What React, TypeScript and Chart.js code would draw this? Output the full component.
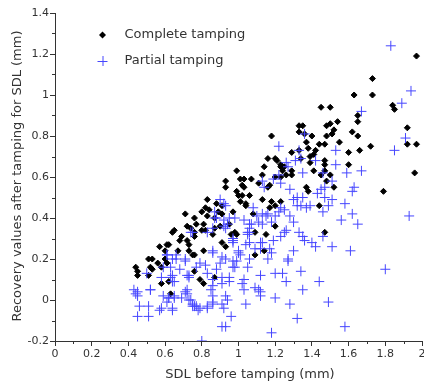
import React, { useEffect, useRef } from "react";
import { Chart, registerables } from "chart.js";

Chart.register(...registerables);

const X_TITLE = "SDL before tamping (mm)";
const Y_TITLE = "Recovery values after tamping for SDL (mm)";
const SERIES_NAMES = ["Complete tamping", "Partial tamping"];
const X_MIN = 0, X_MAX = 2, Y_MIN = -0.2, Y_MAX = 1.4;
const X_MINOR = [0.1, 0.3, 0.5, 0.7, 0.9, 1.1, 1.3, 1.5, 1.7, 1.9];
const Y_MINOR = [-0.1, 0.1, 0.3, 0.5, 0.7, 0.9, 1.1, 1.3];

const completeX = [
  1.97, 1.73, 1.63, 1.73, 1.84, 1.85, 1.45, 1.5, 1.65, 1.54, 1.65, 1.5, 1.48, 1.52, 1.62, 1.48, 1.51, 1.65, 1.92, 1.92,
  1.97, 1.96, 1.66, 1.72, 1.6, 1.6, 1.47, 1.55, 1.44, 1.4, 1.36, 1.33, 1.35, 1.33, 1.18, 1.29, 1.37, 1.38, 1.41, 1.39,
  1.39, 1.47, 1.47, 1.47, 1.48, 1.5, 1.41, 1.45, 1.37, 1.34, 1.42, 1.52, 1.79, 1.44, 1.47, 1.16, 1.2, 1.21, 1.14, 1.23,
  1.24, 1.23, 1.26, 1.2, 0.99, 0.93, 1.01, 1.03, 1.07, 1.02, 1.03, 1.11, 1.16, 1.17, 1.38, 0.93, 0.99, 1.0, 1.02, 1.06,
  1.01, 1.04, 1.04, 0.91, 1.13, 1.18, 1.23, 1.17, 1.2, 0.91, 0.97, 1.08, 1.09, 0.95, 0.98, 0.9, 1.2, 1.15, 0.96, 0.99,
  0.91, 0.93, 1.09, 1.14, 0.83, 0.88, 0.82, 0.84, 0.8, 0.83, 0.71, 0.76, 0.87, 0.89, 0.77, 0.81, 0.72, 0.65, 0.64, 0.8,
  0.87, 0.69, 0.76, 0.82, 0.86, 0.72, 0.73, 0.61, 0.57, 0.67, 0.75, 0.81, 0.51, 0.53, 0.56, 0.52, 0.53, 0.44, 0.45, 0.45,
  0.51, 0.62, 0.76, 0.79, 0.81, 0.87, 0.63, 0.58, 0.6, 0.61, 0.6, 0.62, 0.68, 0.73, 0.74, 0.76, 0.58, 0.76, 1.13, 1.23,
  1.25, 1.29, 1.29, 1.33,
];
const completeY = [
  1.19, 1.08, 1.0, 1.0, 0.95, 0.93, 0.94, 0.94, 0.9, 0.87, 0.87, 0.86, 0.85, 0.83, 0.82, 0.8, 0.81, 0.8, 0.84, 0.76,
  0.76, 0.62, 0.73, 0.75, 0.72, 0.66, 0.76, 0.77, 0.76, 0.8, 0.81, 0.85, 0.85, 0.82, 0.8, 0.72, 0.77, 0.74, 0.71, 0.7,
  0.67, 0.68, 0.66, 0.63, 0.58, 0.61, 0.63, 0.61, 0.55, 0.69, 0.73, 0.55, 0.53, 0.46, 0.33, 0.69, 0.69, 0.68, 0.65, 0.65,
  0.63, 0.6, 0.61, 0.6, 0.63, 0.58, 0.59, 0.59, 0.59, 0.56, 0.55, 0.57, 0.55, 0.56, 0.53, 0.55, 0.53, 0.51, 0.51, 0.51,
  0.48, 0.47, 0.46, 0.46, 0.49, 0.48, 0.48, 0.45, 0.46, 0.42, 0.43, 0.42, 0.33, 0.37, 0.33, 0.36, 0.36, 0.32, 0.32, 0.32,
  0.28, 0.26, 0.22, 0.24, 0.49, 0.47, 0.45, 0.44, 0.43, 0.41, 0.42, 0.4, 0.4, 0.43, 0.37, 0.37, 0.36, 0.34, 0.33, 0.34,
  0.35, 0.31, 0.33, 0.34, 0.32, 0.29, 0.27, 0.27, 0.26, 0.24, 0.22, 0.24, 0.2, 0.2, 0.18, 0.16, 0.15, 0.16, 0.14, 0.12,
  0.12, 0.09, 0.14, 0.1, 0.08, 0.11, 0.03, 0.16, 0.2, 0.18, 0.24, 0.27, 0.29, 0.24, 0.35, 0.22, 0.08, 0.31, 0.61, 0.66,
  0.65, 0.63, 0.61, 0.73,
];

const partialX = [
  1.83, 1.94, 1.89, 1.67, 1.91, 1.85, 1.67, 1.59, 1.53, 1.53, 1.22, 1.33, 1.42, 1.46, 1.51, 1.35, 1.36, 1.63, 1.62, 1.47,
  1.45, 1.43, 1.47, 1.51, 1.49, 1.58, 1.46, 1.62, 1.56, 1.65, 1.93, 1.46, 1.42, 1.51, 1.61, 1.8, 1.44, 1.49, 1.58, 1.35,
  1.36, 1.4, 1.3, 1.27, 1.34, 1.35, 1.28, 1.32, 1.18, 1.2, 1.2, 1.24, 1.26, 1.16, 1.12, 1.09, 1.11, 1.12, 1.12, 1.04,
  0.96, 0.93, 1.03, 1.03, 1.02, 0.97, 0.98, 0.97, 0.95, 0.95, 0.93, 0.94, 0.91, 0.92, 0.86, 0.99, 1.05, 1.0, 1.0, 0.97,
  1.06, 1.05, 1.12, 1.19, 1.25, 1.17, 1.18, 1.09, 1.28, 1.3, 1.23, 1.32, 1.37, 1.35, 1.15, 1.16, 1.2, 1.18, 1.11, 1.06,
  1.05, 0.92, 0.93, 0.87, 0.88, 0.95, 0.94, 0.97, 0.86, 0.93, 0.88, 0.45, 0.45, 0.52, 0.46, 0.51, 0.45, 0.51, 0.57, 0.64,
  0.62, 0.61, 0.65, 0.71, 0.73, 0.75, 0.76, 0.79, 0.83, 0.8, 0.61, 0.64, 0.66, 0.71, 0.64, 0.59, 0.5, 0.65, 0.72, 0.73,
  0.79, 0.77, 0.82, 0.83, 0.86, 0.86, 0.85, 0.86, 0.86, 0.83, 0.91, 0.91, 0.91, 0.75, 0.86, 0.9, 0.91, 1.23, 0.97, 1.04,
  1.06, 1.13, 1.12, 1.27, 1.06, 1.01, 1.34, 1.31, 1.26, 1.27, 1.22, 1.19, 1.23, 1.13, 1.14, 1.28, 1.32, 1.3, 1.39, 1.25,
  1.22, 1.13, 1.1, 1.08, 1.13, 1.07, 1.03, 0.98, 1.06, 1.26, 1.33, 0.93, 0.9, 1.34, 0.87, 0.92, 0.92, 0.74, 0.83, 0.86,
  0.43, 0.44, 0.52, 0.58, 0.64, 0.59, 0.62, 0.65, 0.69, 0.72, 0.72, 0.74, 0.75, 0.77, 0.78, 0.63, 0.66, 0.71, 0.68, 0.63,
  0.64, 0.73, 0.58, 0.61,
];
const partialY = [
  1.24, 1.02, 0.96, 0.92, 0.79, 0.73, 0.63, 0.62, 0.73, 0.66, 0.75, 0.73, 0.68, 0.62, 0.58, 0.62, 0.81, 0.55, 0.53, 0.55,
  0.54, 0.52, 0.5, 0.49, 0.46, 0.47, 0.43, 0.42, 0.39, 0.37, 0.41, 0.31, 0.26, 0.26, 0.24, 0.15, 0.09, -0.01, -0.13, 0.31,
  0.29, 0.28, 0.24, 0.2, 0.14, 0.05, -0.02, -0.09, -0.16, 0.01, 0.13, 0.13, 0.09, 0.2, 0.12, 0.06, 0.05, 0.04, 0.02, -0.02,
  -0.08, -0.13, 0.05, 0.1, 0.08, 0.16, 0.16, 0.19, 0.11, 0.09, 0.02, 0.0, -0.02, -0.04, -0.02, 0.19, 0.16, 0.24, 0.23, 0.28,
  0.33, 0.32, 0.28, 0.29, 0.33, 0.25, 0.23, 0.25, 0.41, 0.38, 0.45, 0.46, 0.45, 0.5, 0.41, 0.42, 0.41, 0.38, 0.38, 0.37,
  0.33, 0.47, 0.46, 0.43, 0.4, 0.4, 0.37, 0.3, 0.23, 0.2, 0.15, 0.04, 0.02, 0.05, -0.03, -0.03, -0.08, -0.08, -0.05, -0.05,
  0.01, -0.01, 0.02, 0.04, 0.0, -0.03, -0.03, -0.04, -0.04, -0.2, 0.22, 0.2, 0.22, 0.2, 0.12, 0.16, 0.13, 0.09, 0.12, 0.11,
  0.18, 0.16, 0.17, 0.13, 0.1, 0.07, 0.05, 0.02, -0.01, -0.03, 0.11, 0.08, 0.21, 0.33, 0.24, 0.18, -0.13, 0.31, 0.29, 0.27,
  0.28, 0.28, 0.25, 0.19, 0.2, 0.22, 0.69, 0.68, 0.67, 0.65, 0.61, 0.59, 0.57, 0.58, 0.55, 0.54, 0.5, 0.49, 0.46, 0.44,
  0.43, 0.42, 0.41, 0.45, 0.37, 0.37, 0.39, 0.4, 0.35, 0.34, 0.33, 0.35, 0.49, 0.46, 0.4, 0.39, 0.36, 0.33, 0.33, 0.35,
  0.05, 0.03, 0.05, -0.04, -0.04, 0.02, 0.01, 0.01, 0.01, 0.05, 0.03, 0.0, -0.02, -0.03, -0.05, 0.16, 0.2, 0.19, 0.15, 0.11,
  0.09, 0.12, 0.11, 0.22,
];

const TEXT_COLOR = "#333333";
const AXIS_COLOR = "#333333";
const BLUE = "rgb(70, 70, 255)";
const FONT = "'DejaVu Sans', Verdana, sans-serif";

function fmt(v: number): string {
  return String(Number(v.toFixed(1)));
}

const overlayPlugin = {
  id: "overlay",
  afterDraw(chart: any) {
    const { ctx, chartArea, scales } = chart;
    const xs = scales.x;
    const ys = scales.y;
    ctx.save();
    ctx.strokeStyle = AXIS_COLOR;
    ctx.lineWidth = 1;
    // minor ticks
    for (const v of X_MINOR) {
      const px = Math.round(xs.getPixelForValue(v)) + 0.5;
      ctx.beginPath();
      ctx.moveTo(px, chartArea.bottom);
      ctx.lineTo(px, chartArea.bottom + 3);
      ctx.stroke();
    }
    for (const v of Y_MINOR) {
      const py = Math.round(ys.getPixelForValue(v)) + 0.5;
      ctx.beginPath();
      ctx.moveTo(chartArea.left, py);
      ctx.lineTo(chartArea.left - 3, py);
      ctx.stroke();
    }
    // axis titles
    ctx.fillStyle = TEXT_COLOR;
    ctx.font = `13px ${FONT}`;
    ctx.textAlign = "center";
    ctx.textBaseline = "middle";
    ctx.fillText(X_TITLE, 250, 375);
    ctx.save();
    ctx.translate(18, 176);
    ctx.rotate(-Math.PI / 2);
    ctx.fillText(Y_TITLE, 0, 0);
    ctx.restore();
    // legend
    const lx = chartArea.left + 47.5;
    const ly1 = chartArea.top + 22;
    const ly2 = chartArea.top + 48;
    ctx.fillStyle = "#000";
    ctx.beginPath();
    ctx.moveTo(lx, ly1 - 3.5);
    ctx.lineTo(lx + 3.5, ly1);
    ctx.lineTo(lx, ly1 + 3.5);
    ctx.lineTo(lx - 3.5, ly1);
    ctx.closePath();
    ctx.fill();
    ctx.strokeStyle = BLUE;
    ctx.beginPath();
    ctx.moveTo(lx - 5, ly2 + 0.5);
    ctx.lineTo(lx + 5, ly2 + 0.5);
    ctx.moveTo(lx + 0.5, ly2 - 5);
    ctx.lineTo(lx + 0.5, ly2 + 5);
    ctx.stroke();
    ctx.fillStyle = TEXT_COLOR;
    ctx.textAlign = "left";
    ctx.fillText(SERIES_NAMES[0], lx + 22, ly1);
    ctx.fillText(SERIES_NAMES[1], lx + 22, ly2);
    ctx.restore();
  },
};

export default function App() {
  const canvasRef = useRef<HTMLCanvasElement | null>(null);

  useEffect(() => {
    const canvas = canvasRef.current;
    if (!canvas) return;
    const complete = completeX.map((x, i) => ({ x, y: completeY[i] }));
    const partial = partialX.map((x, i) => ({ x, y: partialY[i] }));
    const chart = new Chart(canvas, {
      type: "scatter",
      data: {
        datasets: [
          {
            label: SERIES_NAMES[0],
            data: complete,
            pointStyle: "rectRot",
            pointRadius: 3,
            borderWidth: 1,
            backgroundColor: "#000",
            borderColor: "#000",
            order: 2,
          },
          {
            label: SERIES_NAMES[1],
            data: partial,
            pointStyle: "cross",
            pointRadius: 5,
            borderWidth: 1,
            backgroundColor: BLUE,
            borderColor: BLUE,
            order: 1,
          },
        ],
      },
      options: {
        animation: false,
        responsive: false,
        layout: { autoPadding: false, padding: { top: 13, right: 2, left: 0, bottom: 0 } },
        plugins: { legend: { display: false }, tooltip: { enabled: false } },
        scales: {
          x: {
            type: "linear",
            min: X_MIN,
            max: X_MAX,
            afterFit: (s: any) => {
              s.height = 42;
              s.paddingLeft = 0;
              s.paddingRight = 0;
            },
            ticks: {
              stepSize: 0.2,
              color: TEXT_COLOR,
              font: { family: FONT, size: 11 },
              padding: 2,
              maxRotation: 0,
              autoSkip: false,
              callback: (v: any) => fmt(Number(v)),
            },
            grid: { display: true, drawOnChartArea: false, drawTicks: true, tickLength: 5, color: AXIS_COLOR },
            border: { display: true, color: AXIS_COLOR, width: 1 },
          },
          y: {
            type: "linear",
            min: Y_MIN,
            max: Y_MAX,
            afterFit: (s: any) => {
              s.width = 55;
              s.paddingTop = 0;
              s.paddingBottom = 0;
            },
            ticks: {
              stepSize: 0.2,
              color: TEXT_COLOR,
              font: { family: FONT, size: 11 },
              padding: 1,
              autoSkip: false,
              callback: (v: any) => fmt(Number(v)),
            },
            grid: { display: true, drawOnChartArea: false, drawTicks: true, tickLength: 5, color: AXIS_COLOR },
            border: { display: true, color: AXIS_COLOR, width: 1 },
          },
        },
      },
      plugins: [overlayPlugin],
    });
    return () => chart.destroy();
  }, []);

  return (
    <div style={{ position: "absolute", left: 0, top: 0, width: 424, height: 383, background: "#fff" }}>
      <canvas ref={canvasRef} width={424} height={383} style={{ display: "block" }} />
    </div>
  );
}
